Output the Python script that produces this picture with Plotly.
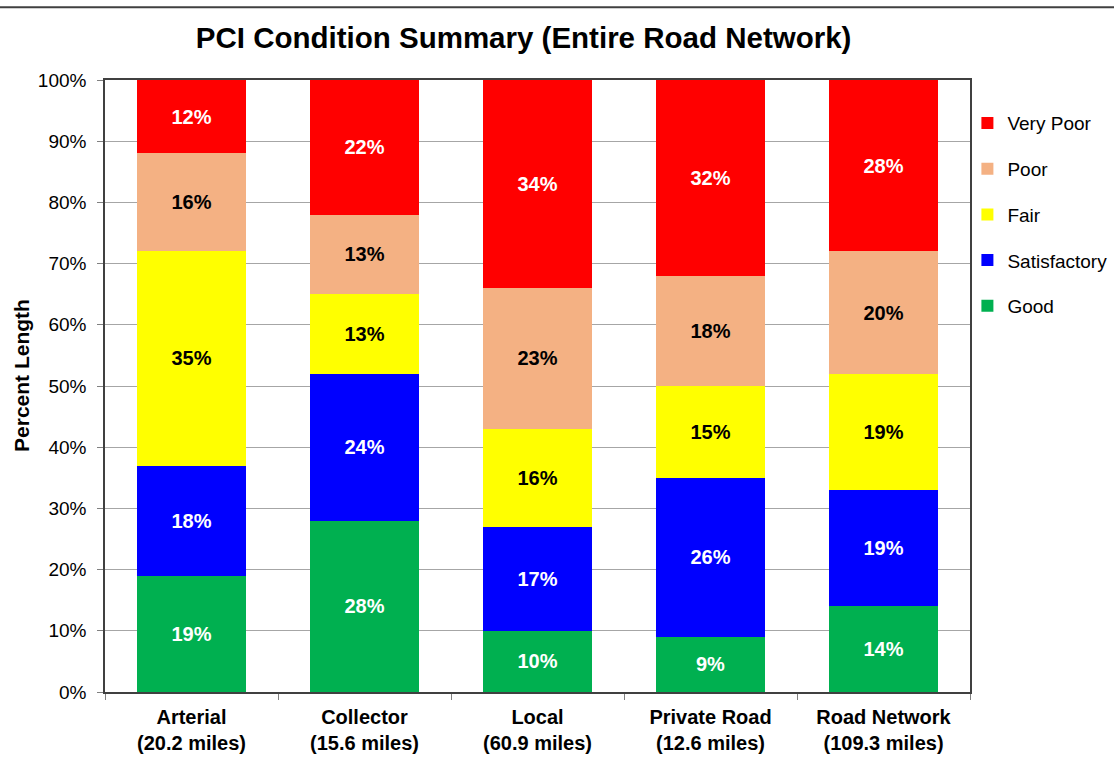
import plotly.graph_objects as go

categories = ["Arterial<br>(20.2 miles)", "Collector<br>(15.6 miles)", "Local<br>(60.9 miles)",
              "Private Road<br>(12.6 miles)", "Road Network<br>(109.3 miles)"]
good = [19, 28, 10, 9, 14]
satisfactory = [18, 24, 17, 26, 19]
fair = [35, 13, 16, 15, 19]
poor = [16, 13, 23, 18, 20]
very_poor = [12, 22, 34, 32, 28]

series = [
    ("Good", good, "#00B050", "white"),
    ("Satisfactory", satisfactory, "#0000FF", "white"),
    ("Fair", fair, "#FFFF00", "black"),
    ("Poor", poor, "#F4B183", "black"),
    ("Very Poor", very_poor, "#FF0000", "white"),
]

FONT = "Liberation Sans, Arial, sans-serif"

fig = go.Figure()
for i, (name, vals, color, tcolor) in enumerate(series):
    fig.add_trace(go.Bar(
        x=categories, y=vals, name=name, legendgroup=name,
        legendrank=len(series) - i,
        marker=dict(color=color, line=dict(width=0)),
        text=[f"{v}%" for v in vals], textposition="inside",
        insidetextanchor="middle", textangle=0, constraintext="none",
        textfont=dict(color=tcolor, size=20, family=FONT, weight="bold"),
        hoverinfo="skip",
    ))

fig.update_layout(
    barmode="stack",
    bargap=0.37,
    width=1114, height=779,
    margin=dict(l=105, r=144, t=80, b=87, autoexpand=False),
    paper_bgcolor="white", plot_bgcolor="white",
    title=dict(text="<b>PCI Condition Summary (Entire Road Network)</b>",
               x=0.47, xanchor="center", y=0.951, yanchor="middle",
               font=dict(size=29.5, color="black", family=FONT)),
    legend=dict(x=0.997, xanchor="left", y=0.9605, yanchor="top",
                traceorder="grouped", tracegroupgap=18,
                font=dict(size=19, color="black", family=FONT),
                itemwidth=30, bgcolor="rgba(0,0,0,0)"),
    font=dict(family=FONT, color="black"),
    shapes=[dict(type="line", xref="paper", yref="paper", x0=-0.13, x1=1.17,
                 y0=1.119, y1=1.119, line=dict(color="#404040", width=2))],
    annotations=[dict(text="<b>Percent Length</b>", textangle=-90, showarrow=False,
                      xref="paper", yref="paper", x=-0.096, y=0.518,
                      xanchor="center", yanchor="middle",
                      font=dict(size=21, color="black", family=FONT))],
)

fig.update_yaxes(
    range=[0, 100], dtick=10, ticksuffix="%",
    showgrid=True, gridcolor="#A6A6A6", gridwidth=1,
    ticks="outside", ticklen=6, tickcolor="#808080",
    showline=True, linecolor="#404040", linewidth=1.5, mirror=True,
    tickfont=dict(size=19, color="black"), ticklabelstandoff=7,
    zeroline=False, automargin=False,
)
fig.update_xaxes(
    tickson="boundaries", ticks="outside", ticklen=6, tickcolor="#808080",
    showline=True, linecolor="#404040", linewidth=1.5, mirror=True,
    tickfont=dict(size=20, color="black", family=FONT, weight="bold"), ticklabelstandoff=6,
    automargin=False,
)

fig.write_html("out.html", config={"displayModeBar": False},
               post_script="document.body.style.margin='0';")
